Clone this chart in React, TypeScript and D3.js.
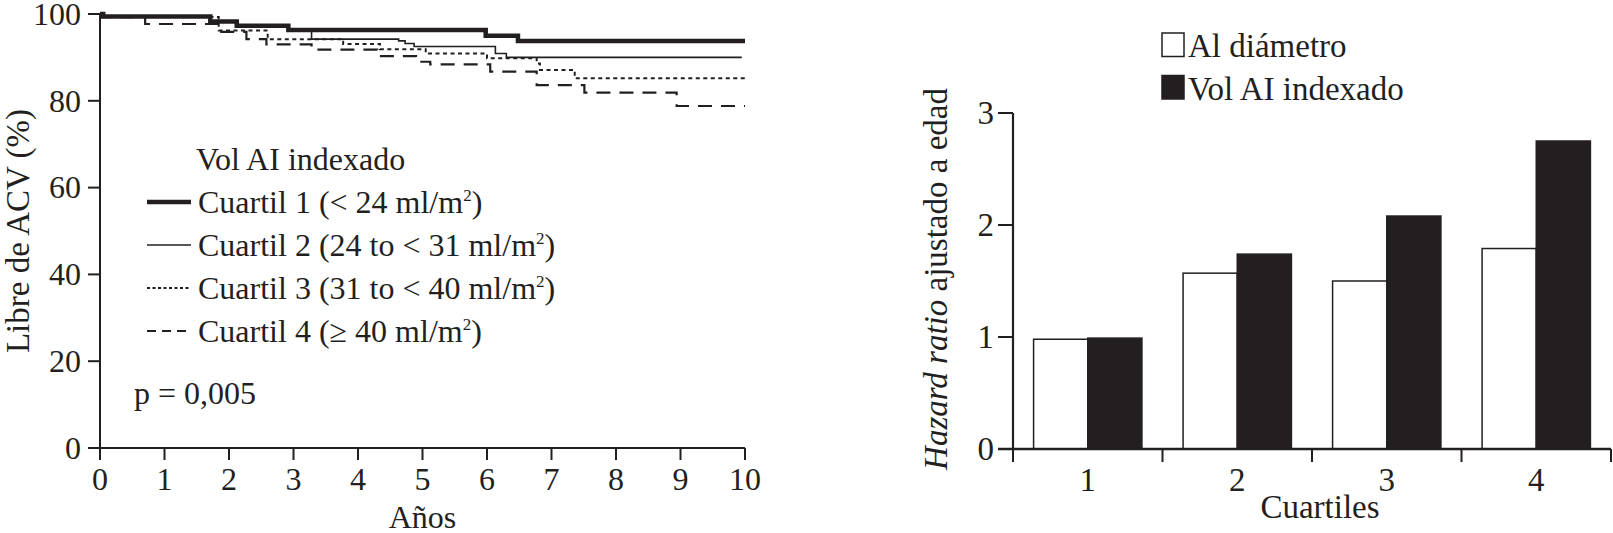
import React from "react";
import * as d3 from "d3";

// Kaplan-Meier (left) + hazard ratio bars (right)

const W = 1613;
const H = 533;
const FONT = "'Liberation Serif', 'Times New Roman', serif";
const INK = "#231f20";

// left panel: survival free of stroke, by quartile of indexed LA volume
const yearTicks = [0, 1, 2, 3, 4, 5, 6, 7, 8, 9, 10];
const survTicks = [0, 20, 40, 60, 80, 100];

const q1Times = [0, 0.05, 1.71, 2.12, 2.92, 5.98, 6.48, 10];
const q1Surv = [100, 99.4, 98.3, 97.3, 96.3, 95.0, 93.8, 93.8];

const q2Times = [0, 0.05, 1.71, 2.12, 2.92, 3.28, 4.63, 4.73, 4.87, 6.13, 6.3, 9.95];
const q2Surv = [100, 99.4, 98.3, 97.2, 96.1, 94.2, 93.8, 93.2, 92.5, 90.9, 90.0, 90.0];

const q3Times = [0, 0.05, 1.84, 2.6, 3.77, 4.34, 5.05, 6.0, 6.77, 6.82, 7.36, 10];
const q3Surv = [100, 99.3, 96.2, 94.2, 93.1, 91.9, 90.9, 89.8, 88.6, 87.1, 85.2, 85.2];

const q4Times = [0, 0.05, 0.7, 1.86, 2.27, 2.58, 3.28, 4.3, 4.9, 5.12, 6.05, 6.77, 7.51, 8.94, 10];
const q4Surv = [100, 99.3, 97.7, 95.9, 94.2, 93.0, 91.8, 90.3, 89.0, 88.4, 86.7, 83.6, 81.9, 78.8, 78.8];

const legendTitle = "Vol AI indexado";
const legendLabels = [
  "Cuartil 1 (< 24 ml/m",
  "Cuartil 2 (24 to < 31 ml/m",
  "Cuartil 3 (31 to < 40 ml/m",
  "Cuartil 4 (\u2265 40 ml/m",
];

// right panel: hazard ratio adjusted for age
const quartiles = ["1", "2", "3", "4"];
const hrDiametro = [0.98, 1.57, 1.5, 1.79];
const hrVolumen = [0.99, 1.74, 2.08, 2.75];
const hrTicks = [0, 1, 2, 3];
const barSeries = ["Al di\u00e1metro", "Vol AI indexado"];

const styles = [
  { w: 4.5, dash: undefined, legendDash: undefined },
  { w: 1.6, dash: undefined, legendDash: undefined },
  { w: 2, dash: "4 3.5", legendDash: "3 2.5" },
  { w: 2.2, dash: "14 9", legendDash: "9 6" },
];

function KaplanMeier() {
  const x = d3.scaleLinear().domain([0, 10]).range([100, 745]);
  const y = d3.scaleLinear().domain([0, 100]).range([448, 14]);

  const series = [
    { t: q1Times, s: q1Surv },
    { t: q2Times, s: q2Surv },
    { t: q3Times, s: q3Surv },
    { t: q4Times, s: q4Surv },
  ];

  const line = d3
    .line<[number, number]>()
    .x((d) => x(d[0]))
    .y((d) => y(d[1]))
    .curve(d3.curveStepAfter);

  const order = [3, 2, 1, 0];

  return (
    <g fontFamily={FONT} fill={INK}>
      {order.map((i) => {
        const pts = series[i].t.map((t, k) => [t, series[i].s[k]] as [number, number]);
        return (
          <path
            key={"km" + i}
            d={line(pts) || ""}
            fill="none"
            stroke={INK}
            strokeWidth={styles[i].w}
            strokeDasharray={styles[i].dash}
          />
        );
      })}

      {/* y axis */}
      <line x1={100} x2={100} y1={y(100)} y2={y(0)} stroke={INK} strokeWidth={2} />
      {survTicks.map((v) => (
        <g key={"sy" + v}>
          <line x1={88} x2={100} y1={y(v)} y2={y(v)} stroke={INK} strokeWidth={2} />
          <text x={81} y={y(v)} dy="0.34em" textAnchor="end" fontSize={32}>
            {v}
          </text>
        </g>
      ))}

      {/* x axis */}
      <line x1={100} x2={x(10)} y1={y(0)} y2={y(0)} stroke={INK} strokeWidth={2} />
      {yearTicks.map((v) => (
        <g key={"sx" + v}>
          <line x1={x(v)} x2={x(v)} y1={y(0)} y2={y(0) + 12} stroke={INK} strokeWidth={2} />
          <text x={x(v)} y={490} textAnchor="middle" fontSize={32}>
            {v}
          </text>
        </g>
      ))}
      <text x={(x(0) + x(10)) / 2} y={528} textAnchor="middle" fontSize={32}>
        Años
      </text>
      <text transform="translate(29,231) rotate(-90)" textAnchor="middle" fontSize={33}>
        Libre de ACV (%)
      </text>

      {/* legend */}
      <text x={196} y={170} fontSize={32}>
        {legendTitle}
      </text>
      {legendLabels.map((lab, i) => {
        const base = 213 + i * 43;
        return (
          <g key={"lg" + i}>
            <line
              x1={147}
              x2={191}
              y1={base - 11}
              y2={base - 11}
              stroke={INK}
              strokeWidth={styles[i].w}
              strokeDasharray={styles[i].legendDash}
            />
            <text x={198} y={base} fontSize={32}>
              {lab}
              <tspan fontSize={17} dy={-12}>
                2
              </tspan>
              <tspan dy={12}>)</tspan>
            </text>
          </g>
        );
      })}
      <text x={134} y={404} fontSize={32}>
        p = 0,005
      </text>
    </g>
  );
}

function HazardBars() {
  const x = d3.scaleBand<string>().domain(quartiles).range([1013, 1611]).padding(0);
  const inner = d3
    .scaleBand<string>()
    .domain(barSeries)
    .range([0, x.bandwidth()])
    .paddingInner(0)
    .paddingOuter(0.38);
  const y = d3.scaleLinear().domain([0, 3]).range([449, 113]);
  const values = [hrDiametro, hrVolumen];
  const edges = [...quartiles.map((q) => x(q) as number), 1611];

  return (
    <g fontFamily={FONT} fill={INK}>
      {quartiles.map((q, qi) =>
        barSeries.map((s, si) => {
          const v = values[si][qi];
          return (
            <rect
              key={q + s}
              x={(x(q) as number) + (inner(s) as number)}
              y={y(v)}
              width={inner.bandwidth()}
              height={y(0) - y(v)}
              fill={si === 0 ? "#ffffff" : INK}
              stroke={INK}
              strokeWidth={1.5}
            />
          );
        })
      )}

      {/* y axis */}
      <line x1={1013} x2={1013} y1={y(3)} y2={y(0)} stroke={INK} strokeWidth={2.2} />
      {hrTicks.map((v) => (
        <g key={"hy" + v}>
          <line x1={998} x2={1013} y1={y(v)} y2={y(v)} stroke={INK} strokeWidth={2} />
          <text x={994} y={y(v)} dy="0.34em" textAnchor="end" fontSize={33}>
            {v}
          </text>
        </g>
      ))}

      {/* x axis */}
      <line x1={998} x2={1611} y1={y(0)} y2={y(0)} stroke={INK} strokeWidth={2.5} />
      {edges.map((e, i) => (
        <line key={"hx" + i} x1={e} x2={e} y1={y(0)} y2={y(0) + 13} stroke={INK} strokeWidth={2} />
      ))}
      {quartiles.map((q) => (
        <text
          key={"hl" + q}
          x={(x(q) as number) + x.bandwidth() / 2}
          y={491}
          textAnchor="middle"
          fontSize={33}
        >
          {q}
        </text>
      ))}
      <text x={1320} y={518} textAnchor="middle" fontSize={33}>
        Cuartiles
      </text>
      <text transform="translate(947,279) rotate(-90)" textAnchor="middle" fontSize={33}>
        <tspan fontStyle="italic">Hazard ratio</tspan> ajustado a edad
      </text>

      {/* legend */}
      {barSeries.map((s, i) => (
        <g key={"bl" + i}>
          <rect
            x={1162}
            y={33 + i * 42.5}
            width={22}
            height={23.5}
            fill={i === 0 ? "#ffffff" : INK}
            stroke={INK}
            strokeWidth={1.5}
          />
          <text x={1188} y={57 + i * 42.5} fontSize={33}>
            {s}
          </text>
        </g>
      ))}
    </g>
  );
}

export default function App() {
  return (
    <svg
      width={W}
      height={H}
      viewBox={`0 0 ${W} ${H}`}
      style={{ position: "absolute", left: 0, top: 0, background: "#ffffff" }}
    >
      <rect x={0} y={0} width={W} height={H} fill="#ffffff" />
      <KaplanMeier />
      <HazardBars />
    </svg>
  );
}
